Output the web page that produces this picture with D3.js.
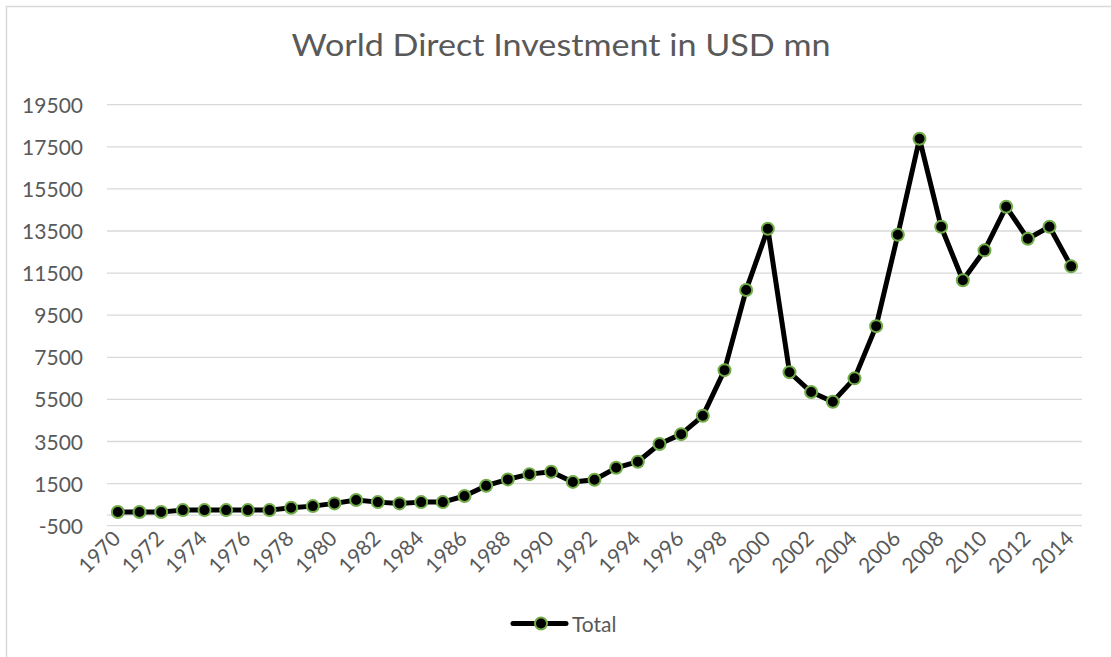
<!DOCTYPE html>
<html>
<head>
<meta charset="utf-8">
<script src="https://cdn.jsdelivr.net/npm/d3@7"></script>
<style>
  html, body { margin: 0; padding: 0; background: #fff; }
  text { font-family: Lato, "Open Sans", sans-serif; fill: #595959; }
</style>
</head>
<body>
<div id="chart"></div>
<script>
var years = d3.range(1970, 2015);

var totals = [
  150, 150, 150, 240, 240, 240, 240, 240, 350, 430,
  560, 720, 620, 560, 620, 620, 910, 1400, 1700, 1950,
  2060, 1580, 1680, 2250, 2540, 3380, 3850, 4720, 6890, 10700,
  13610, 6790, 5850, 5390, 6500, 8980, 13320, 17880, 13700, 11160,
  12580, 14650, 13130, 13700, 11820
];

var y_ticks = [-500, 1500, 3500, 5500, 7500, 9500, 11500, 13500, 15500, 17500, 19500];

var title = 'World Direct Investment in USD mn';
var series_name = 'Total';

var W = 1111, H = 657;
var margin = { left: 107, right: 1082, top: 104.7, bottom: 525.7 };

var svg = d3.select('#chart').append('svg')
  .attr('width', W)
  .attr('height', H);

// chart frame
svg.append('rect')
  .attr('x', 6.5)
  .attr('y', 6.5)
  .attr('width', W + 20)
  .attr('height', H + 20)
  .attr('fill', '#fff')
  .attr('stroke', '#d9d9d9')
  .attr('stroke-width', 1.5);

var x = d3.scaleBand()
  .domain(years)
  .range([margin.left, margin.right]);

var y = d3.scaleLinear()
  .domain([-500, 19500])
  .range([margin.bottom, margin.top]);

// gridlines
svg.append('g')
  .selectAll('line')
  .data(y_ticks)
  .enter()
  .append('line')
  .attr('x1', margin.left)
  .attr('x2', margin.right)
  .attr('y1', (d) => y(d))
  .attr('y2', (d) => y(d))
  .attr('stroke', '#d9d9d9')
  .attr('stroke-width', 1.3);

// category axis sits at zero
svg.append('line')
  .attr('x1', margin.left)
  .attr('x2', margin.right)
  .attr('y1', y(0))
  .attr('y2', y(0))
  .attr('stroke', '#d9d9d9')
  .attr('stroke-width', 1.3);

// y labels
var y_axis = d3.axisLeft(y)
  .tickValues(y_ticks)
  .tickFormat((d) => d3.format('d')(d).replace('−', '-'))
  .tickSize(0)
  .tickPadding(0);

var ya = svg.append('g')
  .attr('transform', 'translate(83,0)')
  .call(y_axis);

ya.select('.domain').remove();
ya.selectAll('text')
  .attr('font-size', 21)
  .attr('dy', '0.36em')
  .style('font-family', 'Lato, sans-serif')
  .attr('fill', '#595959');

// x labels, every other year
var x_axis = d3.axisBottom(x)
  .tickValues(years.filter((d) => d % 2 === 0))
  .tickSize(0)
  .tickPadding(0);

var xa = svg.append('g')
  .attr('transform', 'translate(0,531)')
  .call(x_axis);

xa.select('.domain').remove();
xa.selectAll('text')
  .attr('font-size', 21)
  .attr('text-anchor', 'end')
  .attr('dy', '0.6em')
  .attr('transform', 'translate(-5,0) rotate(-45)')
  .style('font-family', 'Lato, sans-serif')
  .attr('fill', '#595959');

// line and markers
var cx = (d, i) => x(years[i]) + x.bandwidth() / 2;

var line = d3.line()
  .x(cx)
  .y((d) => y(d));

svg.append('path')
  .datum(totals)
  .attr('d', line)
  .attr('fill', 'none')
  .attr('stroke', '#000')
  .attr('stroke-width', 5)
  .attr('stroke-linejoin', 'round');

svg.append('g')
  .selectAll('circle')
  .data(totals)
  .enter()
  .append('circle')
  .attr('cx', cx)
  .attr('cy', (d) => y(d))
  .attr('r', 6)
  .attr('fill', '#000')
  .attr('stroke', '#70ad47')
  .attr('stroke-width', 2);

// title
svg.append('text')
  .attr('x', 561)
  .attr('y', 56)
  .attr('text-anchor', 'middle')
  .attr('font-size', 31)
  .attr('textLength', 539)
  .attr('lengthAdjust', 'spacingAndGlyphs')
  .text(title);

// legend
var lg = svg.append('g');

lg.append('line')
  .attr('x1', 513)
  .attr('x2', 566)
  .attr('y1', 623.5)
  .attr('y2', 623.5)
  .attr('stroke', '#000')
  .attr('stroke-width', 5)
  .attr('stroke-linecap', 'round');

lg.append('circle')
  .attr('cx', 541)
  .attr('cy', 623.5)
  .attr('r', 6)
  .attr('fill', '#000')
  .attr('stroke', '#70ad47')
  .attr('stroke-width', 2);

lg.append('text')
  .attr('x', 572)
  .attr('y', 632)
  .attr('font-size', 21)
  .text(series_name);
</script>
</body>
</html>
